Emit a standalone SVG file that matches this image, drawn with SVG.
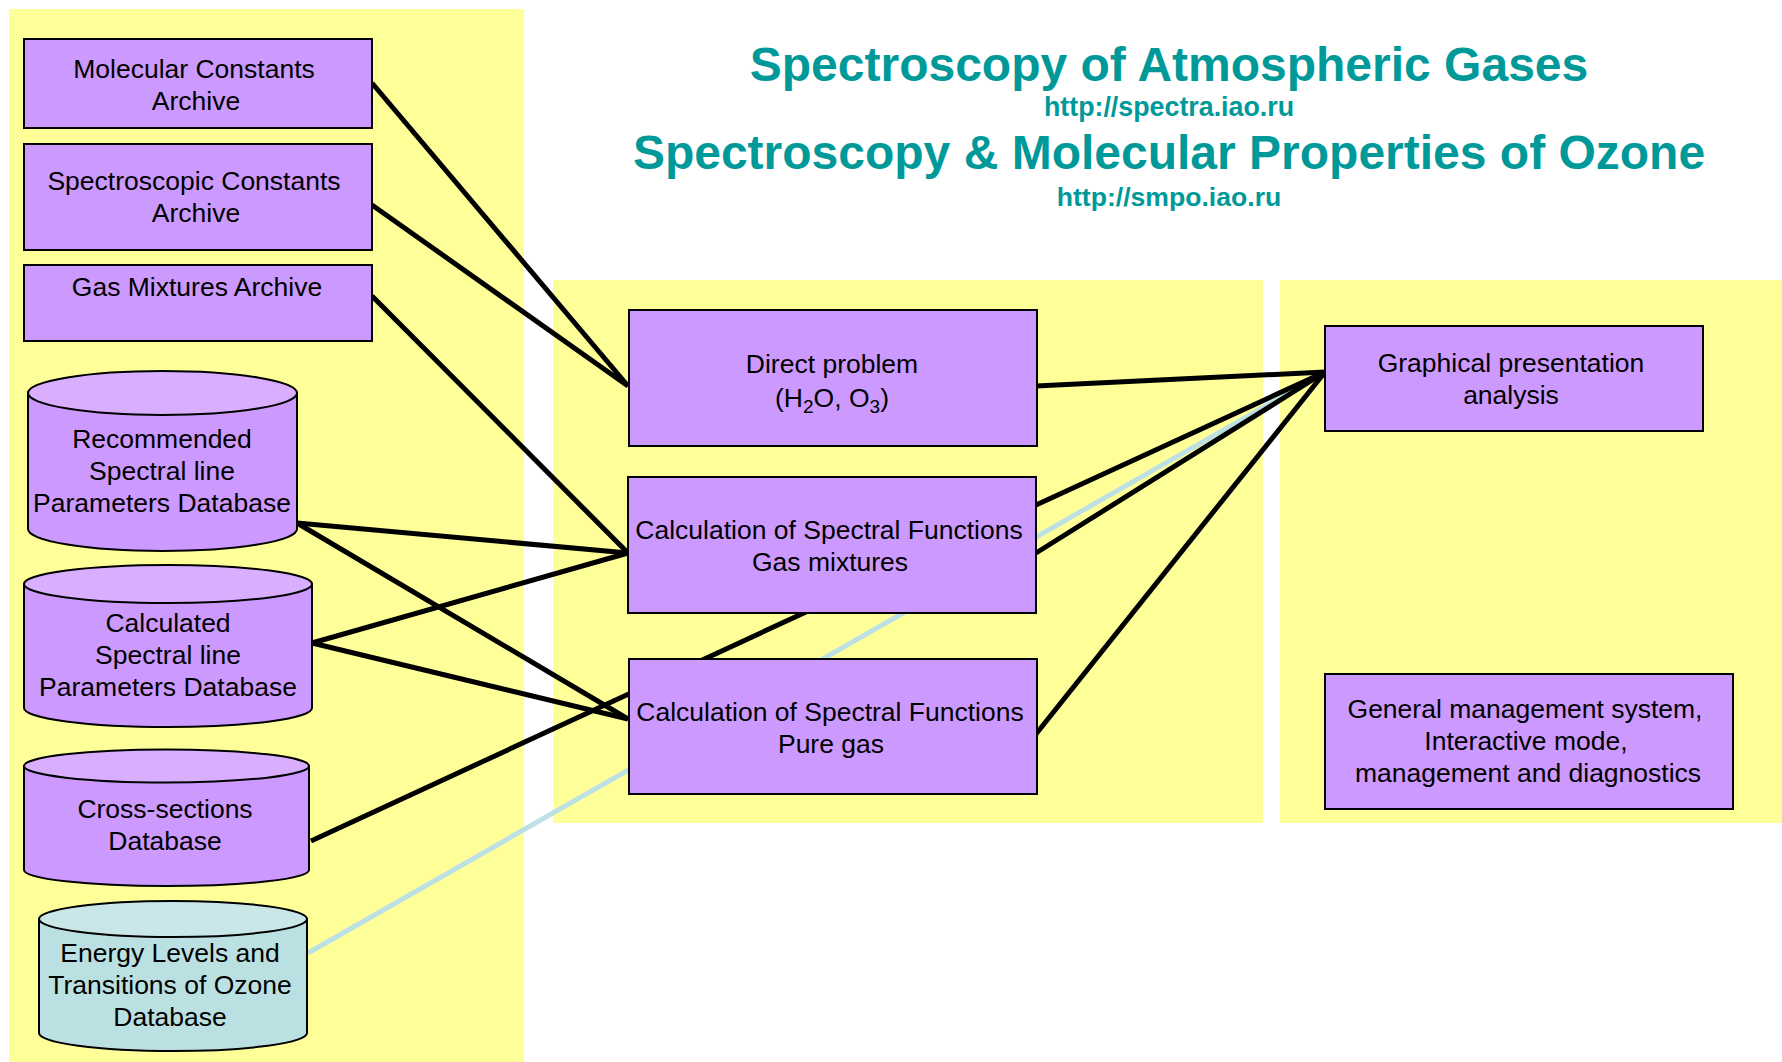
<svg xmlns="http://www.w3.org/2000/svg" width="1782" height="1062" viewBox="0 0 1782 1062">
<defs>
<style>
.panel{fill:#FFFF99;stroke:none}
.box{fill:#CC99FF;stroke:#000;stroke-width:2}
.cylb{fill:#CC99FF;stroke:#000;stroke-width:2}
.cylt{fill:#D9AEFF;stroke:#000;stroke-width:2}
.cylb2{fill:#BBE0E2;stroke:#000;stroke-width:2}
.cylt2{fill:#C9E7E8;stroke:#000;stroke-width:2}
.t{font-family:"Liberation Sans",Arial,sans-serif;font-size:26.5px;fill:#000;text-anchor:middle}
.title{font-family:"Liberation Sans",Arial,sans-serif;font-weight:bold;fill:#009999;text-anchor:middle}
.c{stroke:#000;stroke-width:5;fill:none}
.cb{stroke:#BDE0E4;stroke-width:5;fill:none}
</style>
</defs>
<rect width="1782" height="1062" fill="#fff"/>
<g id="panels">
<rect class="panel" x="9" y="9" width="515" height="1053"/>
<rect class="panel" x="553" y="280" width="710" height="543"/>
<rect class="panel" x="1280" y="280" width="502" height="543"/>
</g>
<g id="titles">
<text class="title" x="1169" y="81" font-size="48">Spectroscopy of Atmospheric Gases</text>
<text class="title" x="1169" y="116" font-size="26.8">http://spectra.iao.ru</text>
<text class="title" x="1169" y="169" font-size="48">Spectroscopy &amp; Molecular Properties of Ozone</text>
<text class="title" x="1169" y="206" font-size="26.6">http://smpo.iao.ru</text>
</g>
<g id="connectors">
<line class="cb" x1="308" y1="953" x2="1325" y2="372"/>
<line class="c" x1="372" y1="83" x2="628" y2="386"/>
<line class="c" x1="372" y1="205" x2="628" y2="386"/>
<line class="c" x1="372" y1="296" x2="628" y2="553"/>
<line class="c" x1="297" y1="523" x2="628" y2="553"/>
<line class="c" x1="297" y1="523" x2="628" y2="719"/>
<line class="c" x1="312" y1="643" x2="628" y2="553"/>
<line class="c" x1="312" y1="643" x2="628" y2="719"/>
<line class="c" x1="311" y1="841" x2="806" y2="612"/>
<line class="c" x1="1036" y1="386" x2="1325" y2="372"/>
<line class="c" x1="1036" y1="505" x2="1325" y2="372"/>
<line class="c" x1="1036" y1="553" x2="1325" y2="372"/>
<line class="c" x1="1036" y1="734" x2="1325" y2="372"/>
</g>
<g id="molecular-constants">
<rect class="box" x="24" y="39" width="348" height="89"/>
<text class="t" x="194" y="78">Molecular Constants</text>
<text class="t" x="196" y="110">Archive</text>
</g>
<g id="spectroscopic-constants">
<rect class="box" x="24" y="144" width="348" height="106"/>
<text class="t" x="194" y="190">Spectroscopic Constants</text>
<text class="t" x="196" y="222">Archive</text>
</g>
<g id="gas-mixtures-archive">
<rect class="box" x="24" y="265" width="348" height="76"/>
<text class="t" x="197" y="296">Gas Mixtures Archive</text>
</g>
<g id="recommended-db">
<path class="cylb" d="M28,393 L28,529 A134.5,22 0 0 0 297,529 L297,393 Z"/>
<ellipse class="cylt" cx="162.5" cy="393" rx="134.5" ry="22"/>
<text class="t" x="162" y="448">Recommended</text>
<text class="t" x="162" y="480">Spectral line</text>
<text class="t" x="162" y="512">Parameters Database</text>
</g>
<g id="calculated-db">
<path class="cylb" d="M24,584 L24,708 A144,19 0 0 0 312,708 L312,584 Z"/>
<ellipse class="cylt" cx="168" cy="584" rx="144" ry="19"/>
<text class="t" x="168" y="632">Calculated</text>
<text class="t" x="168" y="664">Spectral line</text>
<text class="t" x="168" y="696">Parameters Database</text>
</g>
<g id="cross-sections-db">
<path class="cylb" d="M24,766 L24,870 A142.5,16 0 0 0 309,870 L309,766 Z"/>
<ellipse class="cylt" cx="166.5" cy="766" rx="142.5" ry="16.5"/>
<text class="t" x="165" y="818">Cross-sections</text>
<text class="t" x="165" y="850">Database</text>
</g>
<g id="energy-levels-db">
<path class="cylb2" d="M39,919 L39,1033 A134,18 0 0 0 307,1033 L307,919 Z"/>
<ellipse class="cylt2" cx="173" cy="919" rx="134" ry="18"/>
<text class="t" x="170" y="962">Energy Levels and</text>
<text class="t" x="170" y="994">Transitions of Ozone</text>
<text class="t" x="170" y="1026">Database</text>
</g>
<g id="direct-problem">
<rect class="box" x="629" y="310" width="408" height="136"/>
<text class="t" x="832" y="373">Direct problem</text>
<text class="t" x="832" y="407">(H<tspan dy="6" font-size="19">2</tspan><tspan dy="-6">O, O</tspan><tspan dy="6" font-size="19">3</tspan><tspan dy="-6">)</tspan></text>
</g>
<g id="gas-mixtures-calc">
<rect class="box" x="628" y="477" width="408" height="136"/>
<text class="t" x="829" y="539">Calculation of Spectral Functions</text>
<text class="t" x="830" y="571">Gas mixtures</text>
</g>
<g id="pure-gas-calc">
<rect class="box" x="629" y="659" width="408" height="135"/>
<text class="t" x="830" y="721">Calculation of Spectral Functions</text>
<text class="t" x="831" y="753">Pure gas</text>
</g>
<g id="graphical">
<rect class="box" x="1325" y="326" width="378" height="105"/>
<text class="t" x="1511" y="372">Graphical presentation</text>
<text class="t" x="1511" y="404">analysis</text>
</g>
<g id="general-management">
<rect class="box" x="1325" y="674" width="408" height="135"/>
<text class="t" x="1525" y="718">General management system,</text>
<text class="t" x="1526" y="750">Interactive mode,</text>
<text class="t" x="1528" y="782">management and diagnostics</text>
</g>
</svg>
